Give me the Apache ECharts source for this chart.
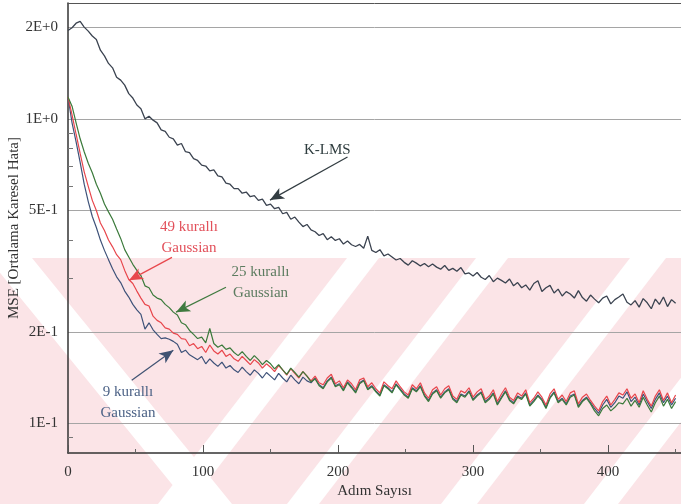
<!DOCTYPE html>
<html><head><meta charset="utf-8">
<script src="https://cdn.jsdelivr.net/npm/echarts@6/dist/echarts.min.js"></script>
<style>html,body{margin:0;padding:0;background:#fff}#c{width:681px;height:504px}</style>
</head><body><div id="c"></div>
<script>
const steps = [0,3,6,9,12,15,18,21,24,27,30,33,36,39,42,45,48,51,54,57,60,63,66,69,72,75,78,81,84,87,90,93,96,99,102,105,108,111,114,117,120,123,126,129,132,135,138,141,144,147,150,153,156,159,162,165,168,171,174,177,180,183,186,189,192,195,198,201,204,207,210,213,216,219,222,225,228,231,234,237,240,243,246,249,252,255,258,261,264,267,270,273,276,279,282,285,288,291,294,297,300,303,306,309,312,315,318,321,324,327,330,333,336,339,342,345,348,351,354,357,360,363,366,369,372,375,378,381,384,387,390,393,396,399,402,405,408,411,414,417,420,423,426,429,432,435,438,441,444,447,450];

const klms = [1.95,1.99,2.06,2.09,2.0,1.94,1.87,1.82,1.68,1.61,
 1.52,1.47,1.37,1.34,1.29,1.21,1.17,1.11,1.08,1.0,
 1.02,0.99,0.97,0.92,0.91,0.87,0.86,0.82,0.83,0.78,
 0.775,0.74,0.73,0.705,0.70,0.675,0.68,0.65,0.645,0.615,
 0.61,0.59,0.59,0.57,0.575,0.555,0.56,0.54,0.545,0.52,
 0.525,0.507,0.512,0.488,0.493,0.468,0.476,0.458,0.443,0.45,
 0.432,0.426,0.414,0.42,0.401,0.41,0.399,0.404,0.388,0.397,
 0.386,0.381,0.387,0.376,0.412,0.37,0.364,0.372,0.355,0.36,
 0.352,0.344,0.348,0.338,0.331,0.342,0.336,0.329,0.335,0.327,
 0.334,0.326,0.321,0.33,0.318,0.323,0.316,0.325,0.31,0.312,
 0.305,0.313,0.302,0.297,0.306,0.292,0.3,0.295,0.289,0.298,
 0.283,0.29,0.279,0.285,0.274,0.288,0.294,0.271,0.279,0.284,
 0.268,0.276,0.262,0.271,0.266,0.258,0.273,0.259,0.252,0.264,
 0.256,0.249,0.258,0.262,0.247,0.255,0.26,0.266,0.25,0.245,
 0.253,0.241,0.257,0.249,0.238,0.256,0.246,0.26,0.242,0.255,
 0.248];

const gauss9 = [1.18,0.97,0.84,0.72,0.61,0.535,0.478,0.44,0.40,0.37,
 0.345,0.322,0.303,0.29,0.272,0.26,0.246,0.236,0.228,0.204,
 0.214,0.203,0.196,0.19,0.191,0.189,0.186,0.182,0.171,0.174,
 0.168,0.165,0.162,0.166,0.157,0.163,0.158,0.154,0.159,0.152,
 0.155,0.15,0.147,0.153,0.148,0.144,0.15,0.146,0.141,0.147,
 0.143,0.139,0.146,0.141,0.137,0.144,0.139,0.135,0.142,0.138,
 0.136,0.141,0.134,0.131,0.138,0.142,0.133,0.135,0.129,0.137,
 0.132,0.127,0.136,0.139,0.13,0.133,0.128,0.124,0.134,0.131,
 0.127,0.135,0.13,0.125,0.122,0.131,0.128,0.133,0.124,0.119,
 0.126,0.129,0.122,0.127,0.13,0.121,0.118,0.125,0.123,0.128,
 0.12,0.124,0.127,0.118,0.121,0.126,0.116,0.122,0.128,0.12,
 0.117,0.123,0.121,0.126,0.115,0.119,0.124,0.12,0.113,0.122,
 0.127,0.118,0.121,0.116,0.123,0.125,0.114,0.119,0.122,0.117,
 0.112,0.108,0.115,0.12,0.113,0.117,0.123,0.121,0.127,0.118,
 0.122,0.115,0.125,0.118,0.112,0.12,0.126,0.117,0.123,0.115,
 0.121];

const gauss49 = [1.18,1.03,0.89,0.77,0.67,0.6,0.54,0.5,0.455,0.43,
 0.4,0.38,0.358,0.345,0.318,0.297,0.288,0.272,0.258,0.246,
 0.243,0.225,0.218,0.214,0.206,0.204,0.198,0.196,0.19,0.189,
 0.18,0.183,0.176,0.179,0.171,0.181,0.173,0.169,0.174,0.166,
 0.169,0.163,0.16,0.166,0.161,0.156,0.162,0.158,0.152,0.157,
 0.153,0.148,0.155,0.15,0.144,0.151,0.146,0.141,0.148,0.143,
 0.138,0.143,0.136,0.134,0.141,0.145,0.135,0.138,0.131,0.139,
 0.135,0.129,0.139,0.141,0.132,0.136,0.13,0.126,0.137,0.133,
 0.13,0.138,0.132,0.127,0.124,0.134,0.13,0.136,0.126,0.121,
 0.129,0.132,0.124,0.13,0.133,0.123,0.12,0.128,0.126,0.131,
 0.122,0.127,0.13,0.12,0.123,0.129,0.118,0.125,0.131,0.122,
 0.119,0.126,0.123,0.129,0.117,0.121,0.127,0.122,0.115,0.125,
 0.13,0.12,0.124,0.118,0.126,0.128,0.116,0.122,0.125,0.119,
 0.114,0.11,0.118,0.123,0.115,0.12,0.126,0.124,0.13,0.121,
 0.125,0.117,0.128,0.12,0.114,0.123,0.129,0.119,0.126,0.117,
 0.124];

const gauss25 = [1.18,1.1,0.97,0.86,0.78,0.715,0.665,0.61,0.57,0.525,
 0.495,0.468,0.435,0.405,0.372,0.352,0.333,0.318,0.306,0.283,
 0.279,0.264,0.258,0.255,0.246,0.24,0.232,0.227,0.214,0.211,
 0.202,0.196,0.19,0.192,0.184,0.205,0.183,0.178,0.181,0.175,
 0.177,0.171,0.167,0.172,0.166,0.161,0.167,0.162,0.156,0.161,
 0.157,0.151,0.156,0.15,0.145,0.152,0.147,0.142,0.148,0.143,
 0.137,0.14,0.133,0.13,0.137,0.141,0.132,0.134,0.128,0.136,
 0.131,0.126,0.135,0.138,0.129,0.132,0.127,0.123,0.133,0.13,
 0.126,0.134,0.129,0.124,0.121,0.13,0.127,0.132,0.123,0.118,
 0.125,0.128,0.121,0.126,0.129,0.12,0.117,0.124,0.122,0.127,
 0.119,0.123,0.126,0.117,0.12,0.125,0.115,0.121,0.127,0.119,
 0.116,0.122,0.12,0.125,0.114,0.118,0.123,0.119,0.112,0.121,
 0.126,0.117,0.12,0.115,0.122,0.124,0.113,0.118,0.121,0.116,
 0.11,0.106,0.112,0.115,0.11,0.113,0.117,0.116,0.121,0.114,
 0.119,0.113,0.122,0.115,0.109,0.117,0.123,0.114,0.12,0.112,
 0.118];

const yMajorTicks = [0.1, 0.2, 0.5, 1, 2];
const yMajorLabels = ['1E-1', '2E-1', '5E-1', '1E+0', '2E+0'];
const yMinorTicks = [0.09, 0.3, 0.4, 0.6, 0.7, 0.8, 0.9];
const xMajorTicks = [0, 100, 200, 300, 400];
const xMinorTicks = [50, 150, 250, 350, 450];

// annotation texts and anchor points (data coordinates)
const annoTexts = ['K-LMS', '49 kurallı\nGaussian', '25 kurallı\nGaussian', '9 kurallı\nGaussian'];
const annoTextAt = [[192, 0.79], [89.6, 0.409], [142.6, 0.29], [44.4, 0.117]];
const annoArrowFrom = [[207, 0.749], [77, 0.351], [117, 0.28], [47.2, 0.1387]];
const annoArrowTo = [[149.6, 0.541], [45.2, 0.295], [80, 0.232], [78, 0.174]];

const FONT = 'Liberation Serif';
const FS = 15;
const textColors = ['#2f3d3f', '#e2505a', '#5c7c60', '#4c6286'];
const arrowColors = ['#333d42', '#e8474c', '#3f7a3f', '#3f5272'];
const lineColors = {klms: '#3b4350', g9: '#3e5279', g49: '#e8464c', g25: '#3b7a3b'};

function pairs(arr) { return steps.map((s, i) => [s, arr[i]]); }
function yLabel(v) {
  let best = 0, d = 1e9;
  yMajorTicks.forEach((t, i) => { const dd = Math.abs(Math.log10(v) - Math.log10(t)); if (dd < d) { d = dd; best = i; } });
  return yMajorLabels[best];
}

// background watermark (decoration only)
function stripe(cTop, cBot, w) {
  return [[cTop - w / 2, 258], [cTop + w / 2, 258], [cBot + w / 2, 504], [cBot - w / 2, 504]];
}
const wmStripes = [[10, 210, 44], [363, 174, 32], [492, 303, 32], [648, 459, 36], [790, 601, 34]];
const graphic = [{type: 'rect', z: -10, silent: true, shape: {x: 0, y: 258, width: 681, height: 246}, style: {fill: '#fbe4e7'}}]
  .concat(wmStripes.map(s => ({type: 'polygon', z: -9, silent: true, shape: {points: stripe(s[0], s[1], s[2])}, style: {fill: '#ffffff'}})));

const chart = echarts.init(document.getElementById('c'), null, {renderer: 'canvas'});
const xMax = 454;
const option = {
  animation: false,
  backgroundColor: '#ffffff',
  graphic: graphic,
  grid: {left: 68, right: 0, top: 3, bottom: 51, containLabel: false, outerBoundsMode: 'none'},
  xAxis: [
    {type: 'value', min: 0, max: xMax, position: 'bottom',
     name: 'Adım Sayısı', nameLocation: 'middle', nameGap: 31, nameMoveOverlap: false,
     nameTextStyle: {fontFamily: FONT, fontSize: FS, color: '#333'},
     axisLine: {show: true, lineStyle: {color: '#333', width: 1.5}},
     axisTick: {show: true, inside: true, length: 8, customValues: xMajorTicks, lineStyle: {color: '#555'}},
     axisLabel: {customValues: xMajorTicks, fontFamily: FONT, fontSize: FS, color: '#333', margin: 12},
     splitLine: {show: false}},
    {type: 'value', min: 0, max: xMax, position: 'bottom',
     axisLine: {show: false},
     axisTick: {show: true, inside: true, length: 4, customValues: xMinorTicks, lineStyle: {color: '#666'}},
     axisLabel: {show: false}, splitLine: {show: false}},
    {type: 'value', min: 0, max: xMax, position: 'top',
     axisLine: {show: true, lineStyle: {color: '#555', width: 1}},
     axisTick: {show: false}, axisLabel: {show: false}, splitLine: {show: false}}
  ],
  yAxis: [
    {type: 'log', logBase: 10, min: 0.08, max: 2.4, position: 'left',
     name: 'MSE [Ortalama Karesel Hata]', nameLocation: 'middle', nameGap: 46, nameRotate: 90, nameMoveOverlap: false,
     nameTextStyle: {fontFamily: FONT, fontSize: FS, color: '#333'},
     axisLine: {show: true, lineStyle: {color: '#333', width: 1.5}},
     axisTick: {show: true, inside: true, length: 0, customValues: yMajorTicks},
     axisLabel: {customValues: yMajorTicks, formatter: yLabel, fontFamily: FONT, fontSize: FS, color: '#333', margin: 10},
     splitLine: {show: true, lineStyle: {color: '#a5a5a5', width: 1}}},
    {type: 'log', logBase: 10, min: 0.08, max: 2.4, position: 'left',
     axisLine: {show: false},
     axisTick: {show: true, inside: true, length: 5, customValues: yMinorTicks, lineStyle: {color: '#777'}},
     axisLabel: {show: false}, splitLine: {show: false}}
  ],
  series: [
    {name: 'K-LMS', type: 'line', data: pairs(klms), showSymbol: false, symbol: 'none',
     lineStyle: {color: lineColors.klms, width: 1.3}, z: 3,
     markLine: {silent: true, symbol: ['none', 'arrow'], symbolSize: [9, 14], label: {show: false},
       data: annoArrowFrom.map((f, i) => [
         {coord: f, lineStyle: {color: arrowColors[i], width: 1.2, type: 'solid'}, itemStyle: {color: arrowColors[i]}},
         {coord: annoArrowTo[i]}])},
     markPoint: {silent: true, symbol: 'rect', symbolSize: 1, itemStyle: {color: 'rgba(0,0,0,0)'},
       data: annoTexts.map((t, i) => ({coord: annoTextAt[i], value: t,
         label: {show: true, position: 'inside', formatter: t, fontFamily: FONT, fontSize: FS, lineHeight: 21, color: textColors[i], align: 'center'}}))}},
    {name: '9 kurallı', type: 'line', data: pairs(gauss9), showSymbol: false, symbol: 'none',
     lineStyle: {color: lineColors.g9, width: 1.2}, z: 3},
    {name: '49 kurallı', type: 'line', data: pairs(gauss49), showSymbol: false, symbol: 'none',
     lineStyle: {color: lineColors.g49, width: 1.2}, z: 3},
    {name: '25 kurallı', type: 'line', data: pairs(gauss25), showSymbol: false, symbol: 'none',
     lineStyle: {color: lineColors.g25, width: 1.2}, z: 3}
  ]
};
chart.setOption(option);
</script>
</body></html>
